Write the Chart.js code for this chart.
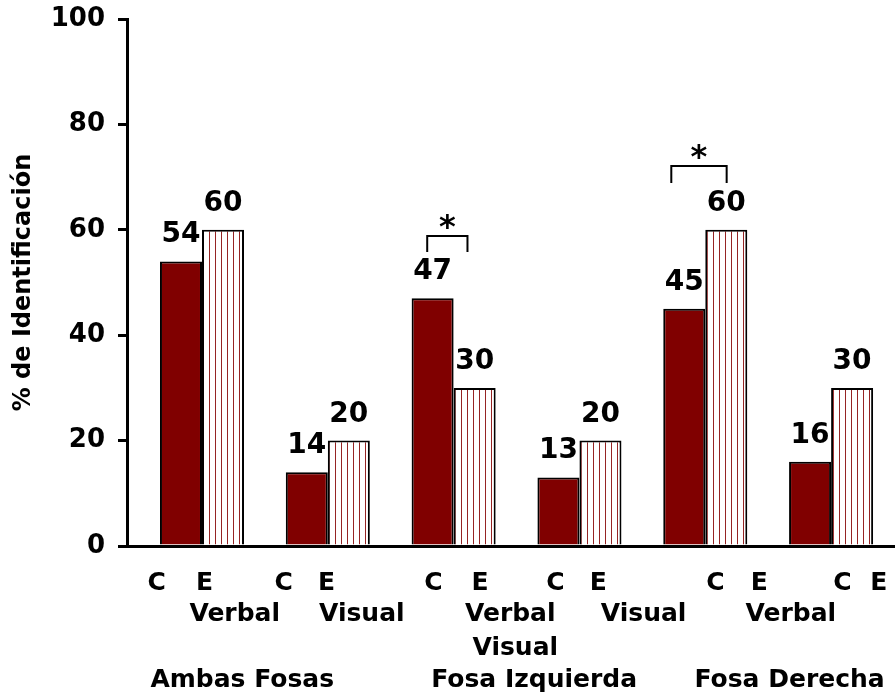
<!DOCTYPE html>
<html>
<head>
<meta charset="utf-8">
<script src="https://cdn.jsdelivr.net/npm/chart.js@4.4.1/dist/chart.umd.min.js"></script>
<style>
  html, body { margin: 0; padding: 0; background: #fff; }
</style>
</head>
<body>
<canvas id="grafico" width="896" height="696"></canvas>
<script>
// datos
const fosas = ['Ambas Fosas', 'Fosa Izquierda', 'Fosa Derecha'];
const tareas = ['Verbal', 'Visual', 'Verbal', 'Visual', 'Verbal'];
const tareaExtra = 'Visual';
const grupos = ['C', 'E'];
const control = [54, 14, 47, 13, 45, 16];
const experimental = [60, 20, 30, 20, 60, 30];

// posiciones de los rotulos del eje x (en unidades de par de barras)
const posGrupos = [[-0.36, 0.02], [0.65, 0.99], [1.84, 2.21], [2.81, 3.15], [4.08, 4.43], [5.09, 5.38]];
const posTareas = [0.26, 1.27, 2.45, 3.51, 4.68];
const posTareaExtra = 2.49;
const posFosas = [0.32, 2.64, 4.67];

// corchetes de significacion
const marcas = [
  { par: 2, desde: -0.21, hasta: 0.11, alto: 58.8, pie: 55.8 },
  { par: 4, desde: -0.27, hasta: 0.17, alto: 72.1, pie: 68.9 }
];

const FUENTE = '"DejaVu Sans", Verdana, sans-serif';
const ctx = document.getElementById('grafico').getContext('2d');

// rayado vertical de las barras E
const tile = document.createElement('canvas');
tile.width = 6; tile.height = 6;
const tg = tile.getContext('2d');
tg.fillStyle = '#ffffff';
tg.fillRect(0, 0, 6, 6);
tg.fillStyle = '#962424';
tg.fillRect(5, 0, 1, 6);
const rayado = ctx.createPattern(tile, 'repeat');

const anotaciones = {
  id: 'anotaciones',
  afterDatasetsDraw(chart) {
    const c = chart.ctx;
    const xs = chart.scales.x, ys = chart.scales.y;
    const base = chart.chartArea.bottom;
    c.save();
    c.fillStyle = '#000';
    c.textAlign = 'center';

    // valores sobre las barras
    c.textBaseline = 'alphabetic';
    c.font = 'bold 28px ' + FUENTE;
    chart.data.datasets.forEach((ds, d) => {
      chart.getDatasetMeta(d).data.forEach((bar, i) => {
        c.fillText(String(ds.data[i].y), bar.x, bar.y - 19);
      });
    });

    // corchetes y asteriscos
    c.strokeStyle = '#000';
    c.lineWidth = 2;
    marcas.forEach(m => {
      const x0 = xs.getPixelForValue(m.par + m.desde);
      const x1 = xs.getPixelForValue(m.par + m.hasta);
      const yt = ys.getPixelForValue(m.alto);
      const yb = ys.getPixelForValue(m.pie);
      c.beginPath();
      c.moveTo(x0, yb);
      c.lineTo(x0, yt);
      c.lineTo(x1, yt);
      c.lineTo(x1, yb);
      c.stroke();
      c.font = 'bold 32px ' + FUENTE;
      c.fillText('*', (x0 + x1) / 2, yt + 1);
    });

    // rotulos del eje x
    c.textBaseline = 'middle';
    c.font = 'bold 25px ' + FUENTE;
    posGrupos.forEach(par => {
      par.forEach((v, k) => c.fillText(grupos[k], xs.getPixelForValue(v), base + 37));
    });
    tareas.forEach((t, i) => c.fillText(t, xs.getPixelForValue(posTareas[i]), base + 68));
    c.fillText(tareaExtra, xs.getPixelForValue(posTareaExtra), base + 102);
    fosas.forEach((f, i) => c.fillText(f, xs.getPixelForValue(posFosas[i]), base + 134));
    c.restore();
  }
};

new Chart(ctx, {
  type: 'bar',
  data: {
    datasets: [
      {
        label: grupos[0],
        data: control.map((v, i) => ({ x: i, y: v })),
        backgroundColor: '#800000',
        borderColor: '#000',
        borderWidth: 2
      },
      {
        label: grupos[1],
        data: experimental.map((v, i) => ({ x: i, y: v })),
        backgroundColor: rayado,
        borderColor: '#000',
        borderWidth: 2
      }
    ]
  },
  options: {
    responsive: false,
    animation: false,
    categoryPercentage: 0.668,
    barPercentage: 1,
    layout: { padding: { top: 19, right: 2, bottom: 0, left: 0 } },
    plugins: {
      legend: { display: false },
      tooltip: { enabled: false }
    },
    scales: {
      x: {
        type: 'linear',
        offset: false,
        bounds: 'data',
        min: -0.596,
        max: 5.5,
        afterBuildTicks: s => { s.ticks = control.map((_, i) => ({ value: i })); },
        afterFit: s => { s.height = 150; s.paddingLeft = 0; s.paddingRight = 0; },
        ticks: { display: false },
        grid: { offset: false, drawOnChartArea: false, drawTicks: false },
        border: { display: true, color: '#000', width: 3 }
      },
      y: {
        min: 0,
        max: 100,
        afterFit: s => { s.width = 127; s.paddingTop = 0; s.paddingBottom = 0; },
        ticks: {
          stepSize: 20,
          color: '#000',
          padding: 13,
          font: { family: FUENTE, size: 26, weight: 'bold' }
        },
        grid: { drawOnChartArea: false, drawTicks: true, tickLength: 9, color: '#000', lineWidth: 3 },
        border: { display: true, color: '#000', width: 3 },
        title: {
          display: true,
          text: '% de Identificación',
          color: '#000',
          padding: { top: 9, bottom: 0 },
          font: { family: FUENTE, size: 24, weight: 'bold' }
        }
      }
    }
  },
  plugins: [anotaciones]
});
</script>
</body>
</html>
